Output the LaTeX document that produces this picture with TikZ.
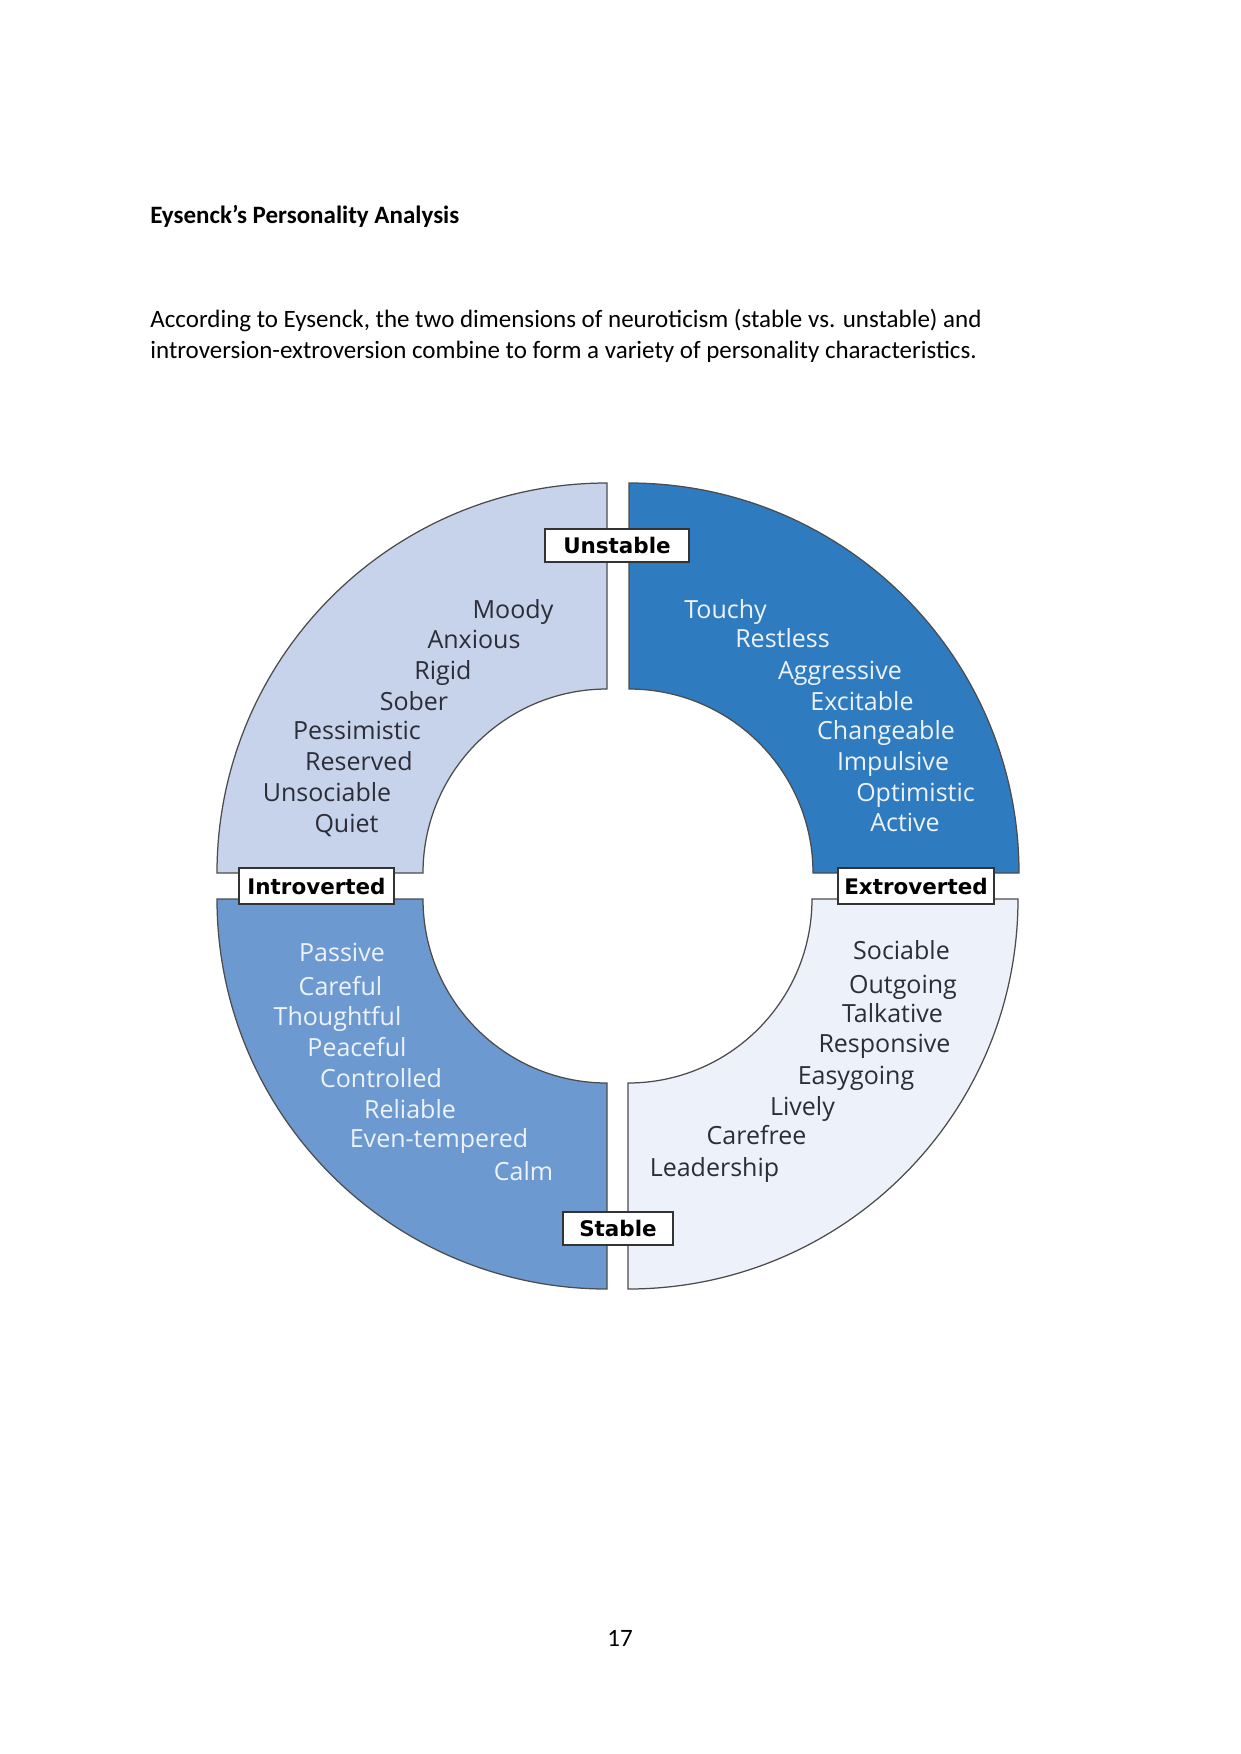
\documentclass[tikz,border=0pt]{standalone}
\usepackage{fontspec}
\setmainfont{Carlito}
\newfontfamily\traitfont{Open Sans}
\newfontfamily\labelfont{DejaVu Sans}
\usetikzlibrary{calc}
\definecolor{qtl}{HTML}{C6D3EA}
\definecolor{qtr}{HTML}{2E7BC0}
\definecolor{qbl}{HTML}{6C9AD0}
\definecolor{qbr}{HTML}{EDF1FA}
\definecolor{darktext}{HTML}{2B2D38}
\definecolor{lighttext}{HTML}{EEF3FB}
\begin{document}
\begin{tikzpicture}[x=0.48pt,y=-0.48pt,
  quad/.style={draw=black!70, line width=0.6pt},
  trait/.style={font=\traitfont\fontsize{12}{14}\selectfont, anchor=base, inner sep=0pt},
  darktrait/.style={trait, text=darktext},
  lighttrait/.style={trait, text=lighttext},
  axislabel/.style={draw=black!80, line width=1pt, fill=white,
    font=\labelfont\bfseries\fontsize{10.3}{12}\selectfont, inner sep=0pt, minimum height=16pt},
  pagetext/.style={anchor=base west, inner sep=0pt, font=\fontsize{12}{14}\selectfont}
]
\useasboundingbox[fill=white] (0,0) rectangle (1241,1754);

% page text
\node[pagetext, font=\bfseries\fontsize{12}{14}\selectfont] (title) at (150,223) {Eysenck’s Personality Analysis};
\node[pagetext] (body1) at (150,327) {According to Eysenck, the two dimensions of neuroticism (stable vs. unstable) and};
\node[pagetext] (body2) at (150,358) {introversion-extroversion combine to form a variety of personality characteristics.};
\node[anchor=base, inner sep=0pt, font=\fontsize{12}{14}\selectfont] (pnum) at (620,1646) {17};

% quadrant centres
\coordinate (ctl) at (607,873);
\coordinate (ctr) at (629,873);
\coordinate (cbr) at (628,899);
\coordinate (cbl) at (607,899);

\draw[quad, fill=qtl] ($(ctl)+(180:390)$) arc[start angle=180, end angle=270, radius=390]
  -- ($(ctl)+(270:184)$) arc[start angle=270, end angle=180, radius=184] -- cycle;
\draw[quad, fill=qtr] ($(ctr)+(270:390)$) arc[start angle=270, end angle=360, radius=390]
  -- ($(ctr)+(0:184)$) arc[start angle=360, end angle=270, radius=184] -- cycle;
\draw[quad, fill=qbr] ($(cbr)+(0:390)$) arc[start angle=0, end angle=90, radius=390]
  -- ($(cbr)+(90:184)$) arc[start angle=90, end angle=0, radius=184] -- cycle;
\draw[quad, fill=qbl] ($(cbl)+(90:390)$) arc[start angle=90, end angle=180, radius=390]
  -- ($(cbl)+(180:184)$) arc[start angle=180, end angle=90, radius=184] -- cycle;

% axis labels
\node[axislabel, minimum width=69pt] (unstable) at (617,545.5) {Unstable};
\node[axislabel, minimum width=74.4pt, minimum height=17.3pt] (introverted) at (316.5,886) {Introverted};
\node[axislabel, minimum width=74.9pt, minimum height=17.3pt] (extroverted) at (916,886) {Extroverted};
\node[axislabel, minimum width=52.8pt] (stable) at (618,1228.5) {Stable};

% traits: top left
\foreach \x/\y/\t [count=\i] in {513/618/Moody, 474/648/Anxious, 443/679/Rigid, 414/710/Sober,
  357/739/Pessimistic, 359/770/Reserved, 327/801/Unsociable, 346.5/832/Quiet}
  \node[darktrait] (tl\i) at (\x,\y) {\t};
% traits: top right
\foreach \x/\y/\t [count=\i] in {725.5/618/Touchy, 782.5/647/Restless, 840/679/Aggressive, 862/710/Excitable,
  886/739/Changeable, 893/770/Impulsive, 915.5/801.7/Optimistic, 905/831.7/Active}
  \node[lighttrait] (tr\i) at (\x,\y) {\t};
% traits: bottom left
\foreach \x/\y/\t [count=\i] in {342/961.7/Passive, 340.5/995/Careful, 337.5/1025/Thoughtful, 357/1056/Peaceful,
  381/1087.7/Controlled, 410/1118.3/Reliable, 439/1147.3/Even-tempered, 523.5/1180.7/Calm}
  \node[lighttrait] (bl\i) at (\x,\y) {\t};
% traits: bottom right
\foreach \x/\y/\t [count=\i] in {901.5/959.3/Sociable, 903/993.3/Outgoing, 892.5/1022.7/Talkative, 884.5/1052.7/Responsive,
  856/1084/Easygoing, 802.5/1115/Lively, 756.5/1144/Carefree, 714.5/1176/Leadership}
  \node[darktrait] (br\i) at (\x,\y) {\t};
\end{tikzpicture}
\end{document}
